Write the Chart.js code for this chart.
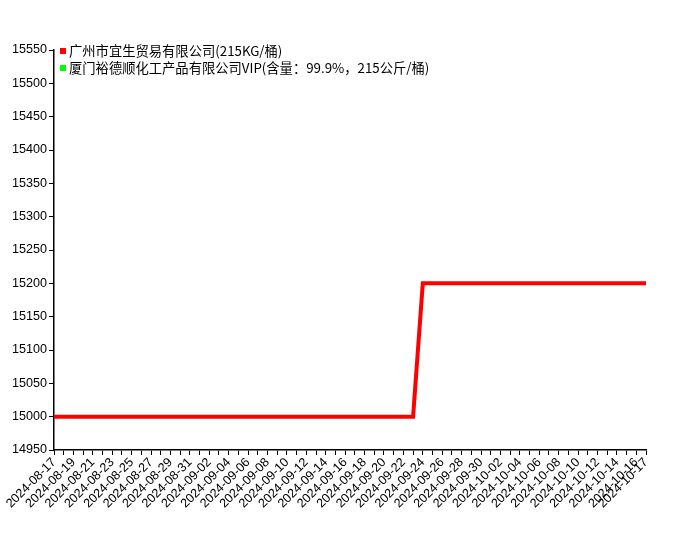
<!DOCTYPE html>
<html lang="zh">
<head>
    <meta charset="UTF-8">
    <title>价格走势</title>
    <script src="https://cdn.jsdelivr.net/npm/chart.js"></script>
    <style>
        html, body { margin: 0; padding: 0; background: #fff; }
        #wrap { width: 700px; height: 550px; }
    </style>
</head>
<body>
    <div id="wrap"><canvas id="priceChart"></canvas></div>

    <script>
        // dates 2024-08-17 .. 2024-10-17, one per day
        const dates = [
            '2024-08-17','2024-08-18','2024-08-19','2024-08-20','2024-08-21','2024-08-22','2024-08-23','2024-08-24',
            '2024-08-25','2024-08-26','2024-08-27','2024-08-28','2024-08-29','2024-08-30','2024-08-31','2024-09-01',
            '2024-09-02','2024-09-03','2024-09-04','2024-09-05','2024-09-06','2024-09-07','2024-09-08','2024-09-09',
            '2024-09-10','2024-09-11','2024-09-12','2024-09-13','2024-09-14','2024-09-15','2024-09-16','2024-09-17',
            '2024-09-18','2024-09-19','2024-09-20','2024-09-21','2024-09-22','2024-09-23','2024-09-24','2024-09-25',
            '2024-09-26','2024-09-27','2024-09-28','2024-09-29','2024-09-30','2024-10-01','2024-10-02','2024-10-03',
            '2024-10-04','2024-10-05','2024-10-06','2024-10-07','2024-10-08','2024-10-09','2024-10-10','2024-10-11',
            '2024-10-12','2024-10-13','2024-10-14','2024-10-15','2024-10-16','2024-10-17'
        ];

        const seriesNames = ['广州市宜生贸易有限公司(215KG/桶)', '厦门裕德顺化工产品有限公司VIP(含量：99.9%，215公斤/桶)'];
        const seriesColors = ['#ff0000', '#00ff00'];

        // 广州市宜生
        const yisheng = [
            15000,15000,15000,15000,15000,15000,15000,15000,15000,15000,15000,15000,15000,15000,15000,15000,
            15000,15000,15000,15000,15000,15000,15000,15000,15000,15000,15000,15000,15000,15000,15000,15000,
            15000,15000,15000,15000,15000,15000,15200,15200,15200,15200,15200,15200,15200,15200,15200,15200,
            15200,15200,15200,15200,15200,15200,15200,15200,15200,15200,15200,15200,15200,15200
        ];
        // 厦门裕德顺 (hidden under the red line)
        const yudeshun = [
            15000,15000,15000,15000,15000,15000,15000,15000,15000,15000,15000,15000,15000,15000,15000,15000,
            15000,15000,15000,15000,15000,15000,15000,15000,15000,15000,15000,15000,15000,15000,15000,15000,
            15000,15000,15000,15000,15000,15000,15200,15200,15200,15200,15200,15200,15200,15200,15200,15200,
            15200,15200,15200,15200,15200,15200,15200,15200,15200,15200,15200,15200,15200,15200
        ];

        const yMin = 14950, yMax = 15550, yStep = 50;

        const tickFont = { family: '"Liberation Sans", Arial, sans-serif', size: 12.6 };

        // légende dessinée dans la zone du graphique
        const legendInside = {
            id: 'legendInside',
            afterDraw(chart) {
                const ctx = chart.ctx;
                const x = chart.chartArea.left + 6;
                let y = chart.chartArea.top + 1;
                ctx.save();
                ctx.font = '13.3px "Noto Sans CJK SC", sans-serif';
                ctx.textBaseline = 'middle';
                chart.data.datasets.forEach((ds) => {
                    ctx.fillStyle = ds.borderColor;
                    ctx.fillRect(x, y - 3, 6, 6);
                    ctx.fillStyle = '#000';
                    ctx.fillText(ds.label, x + 9, y);
                    y += 17;
                });
                ctx.restore();
            }
        };

        const ctx = document.getElementById('priceChart').getContext('2d');
        new Chart(ctx, {
            type: 'line',
            data: {
                labels: dates,
                datasets: [
                    { label: seriesNames[0], data: yisheng, borderColor: seriesColors[0], borderWidth: 4, pointRadius: 0, tension: 0, order: 0 },
                    { label: seriesNames[1], data: yudeshun, borderColor: seriesColors[1], borderWidth: 2, pointRadius: 0, tension: 0, order: 1 }
                ]
            },
            options: {
                responsive: true,
                maintainAspectRatio: false,
                animation: false,
                layout: { padding: { top: 50, right: 54, left: 0, bottom: 0 } },
                plugins: { legend: { display: false }, tooltip: { enabled: false } },
                scales: {
                    x: {
                        offset: false,
                        grid: { display: true, drawOnChartArea: false, color: '#000', tickLength: 5 },
                        border: { color: '#000', width: 1.5 },
                        ticks: {
                            autoSkip: false,
                            maxRotation: 45,
                            minRotation: 45,
                            color: '#000',
                            font: tickFont,
                            padding: 0,
                            callback: function (v, i) {
                                return (i % 2 === 0 || i === dates.length - 1) ? dates[i] : '';
                            }
                        },
                        afterFit(scale) { scale.height = 100; }
                    },
                    y: {
                        min: yMin,
                        max: yMax,
                        grid: { display: true, drawOnChartArea: false, color: '#000', tickLength: 5 },
                        border: { color: '#000', width: 1.5 },
                        ticks: {
                            stepSize: yStep,
                            color: '#000',
                            font: tickFont,
                            padding: 2,
                            callback: (v) => String(v)
                        },
                        afterFit(scale) { scale.width = 54; }
                    }
                }
            },
            plugins: [legendInside]
        });
    </script>
</body>
</html>
